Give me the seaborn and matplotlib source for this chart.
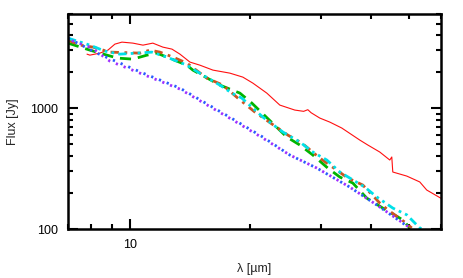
import numpy as np
import pandas as pd
import matplotlib
matplotlib.use("Agg")
import matplotlib.pyplot as plt
import seaborn as sns
from matplotlib.ticker import LogLocator, FuncFormatter, NullFormatter

# observed spectrum (wavelength in micron, flux in Jy)
obs_wl = [7.81, 7.94, 8.41, 8.81, 9.17, 9.55, 10.17, 10.78, 11.41, 12.09, 12.74,
          13.34, 14.13, 14.96, 16.13, 17.78, 19.16, 20.30, 22.00, 23.71, 25.85,
          27.20, 27.86, 28.40, 29.85, 31.62, 33.88, 37.58, 39.36, 42.17, 44.67,
          45.19, 45.45, 49.26, 53.09, 55.27, 59.91]
obs_flux = [2793, 2741, 2848, 3016, 3381, 3512, 3446, 3316, 3446, 3193, 3074,
            2793, 2401, 2265, 2061, 1946, 1804, 1609, 1330, 1059, 963,
            940, 970, 915, 827, 766, 684, 544, 495, 433, 372,
            394, 296, 274, 245, 210, 180]

# model SEDs
green_wl = [7.00, 7.94, 8.76, 9.33, 10.17, 11.03, 11.68, 12.37, 13.88, 14.37, 16.79,
            18.84, 20.18, 24.69, 26.61, 28.68, 31.26, 33.50, 36.10, 39.13, 42.90,
            48.14, 50.12]
green_flux = [3446, 3016, 2741, 2589, 2541, 2741, 2848, 2640, 2265, 2061, 1549,
              1330, 1100, 576, 495, 409, 319, 269, 240, 180, 149,
              119, 102]

brown_wl = [7.00, 7.50, 8.08, 8.91, 10.59, 11.22, 11.89, 12.81, 13.88, 15.57, 17.08,
            18.62, 20.54, 24.83, 26.92, 29.85, 35.08, 38.24, 42.17, 44.16, 48.70, 50.70]
brown_flux = [3648, 3316, 3193, 2903, 2848, 3016, 2903, 2640, 2355, 1770, 1549,
              1209, 927, 598, 514, 386, 264, 231, 164, 144, 114, 102]

cyan_wl = [7.00, 7.94, 8.66, 9.44, 10.41, 11.35, 12.37, 13.88, 15.22, 16.79, 17.99,
           19.05, 20.30, 21.50, 24.13, 26.61, 28.68, 31.08, 33.50, 38.68, 41.45,
           45.45, 49.26, 53.09, 54.95]
cyan_flux = [3789, 3316, 2958, 2793, 2848, 2903, 2640, 2265, 1874, 1549, 1330,
             1209, 1000, 843, 634, 524, 433, 372, 296, 222, 184,
             149, 131, 102, 98]

blue_wl = [7.00, 8.27, 9.83, 10.78, 13.34, 18.10, 21.50, 25.12, 29.35, 35.48, 41.45, 50.12]
blue_flux = [3789, 2848, 2224, 1946, 1463, 811, 576, 409, 319, 222, 158, 102]

purple_wl = [7.00, 8.04, 8.91, 10.29, 13.34, 18.10, 21.50, 25.12, 29.35, 35.48, 41.45, 50.70]
purple_flux = [3718, 3131, 2445, 2022, 1436, 796, 565, 409, 319, 222, 158, 100]

series = [
    ("obs", obs_wl, obs_flux, "#ff1010", 0.8, "-"),
    ("green", green_wl, green_flux, "#00b400", 2.0, (0, (4, 2.5))),
    ("brown", brown_wl, brown_flux, "#cc5520", 2.0, (0, (3, 2, 1, 2))),
    ("cyan", cyan_wl, cyan_flux, "#00e0e8", 2.0, (0, (3, 1.5, 1, 1.5, 1, 1.5))),
    ("blue", blue_wl, blue_flux, "#2a5cff", 2.0, (0, (0.8, 2.2))),
    ("purple", purple_wl, purple_flux, "#a030ff", 2.0, (1.5, (0.8, 2.2))),
]

sns.set_theme(style="ticks")
plt.rcParams['font.family'] = ['Liberation Sans', 'DejaVu Sans']

fig = plt.figure(figsize=(4.63, 2.78), dpi=100)
ax = fig.add_axes([68 / 463, 49 / 278, 373 / 463, 215 / 278])

for name, wl, fl, col, lw, ls in series:
    df = pd.DataFrame({"wl": wl, "flux": fl})
    sns.lineplot(data=df, x="wl", y="flux", ax=ax, color=col, linewidth=lw,
                 sort=False, estimator=None)
    ax.lines[-1].set_linestyle(ls)

ax.set_xscale("log")
ax.set_yscale("log")
ax.set_xlim(7, 60)
ax.set_ylim(100, 6000)

plain = FuncFormatter(lambda v, p: f"{v:g}")
ax.xaxis.set_major_locator(LogLocator(base=10))
ax.xaxis.set_major_formatter(plain)
ax.xaxis.set_minor_locator(LogLocator(base=10, subs=np.arange(2, 10)))
ax.xaxis.set_minor_formatter(NullFormatter())
ax.yaxis.set_major_locator(LogLocator(base=10))
ax.yaxis.set_major_formatter(plain)
ax.yaxis.set_minor_locator(LogLocator(base=10, subs=np.arange(2, 10)))
ax.yaxis.set_minor_formatter(NullFormatter())

ax.tick_params(which="both", direction="in", top=True, right=True, colors="black",
               labelsize=9, pad=7)
ax.tick_params(which="major", length=7, width=1.5)
ax.tick_params(which="minor", length=3.5, width=1.5)
for s in ax.spines.values():
    s.set_linewidth(1.8)
    s.set_color("black")

ax.set_xlabel("λ [µm]", fontsize=9, labelpad=9)
ax.set_ylabel("Flux [Jy]", fontsize=9, labelpad=8)

fig.savefig("out.png", dpi=100)
